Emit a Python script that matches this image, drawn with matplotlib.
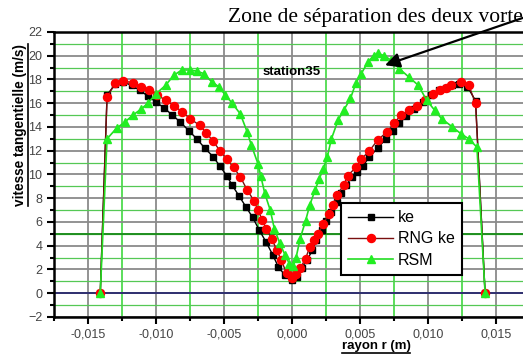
import matplotlib
matplotlib.use('Agg')
from matplotlib import pyplot as plt
from matplotlib import ticker
from matplotlib.lines import Line2D

# ke (black squares)
r_ke = [-0.0141, -0.0136, -0.0130, -0.0124, -0.0118, -0.0112, -0.0106, -0.0100,
        -0.0094, -0.0088, -0.0082, -0.0076, -0.0070, -0.0064, -0.0058, -0.0053,
        -0.0048, -0.0044, -0.0039, -0.0034, -0.0029, -0.0024, -0.0019, -0.0014,
        -0.0010, -0.0005, 0.0000, 0.0004, 0.0007, 0.0011, 0.0015, 0.0018, 0.0022,
        0.0025, 0.0029, 0.0033, 0.0036, 0.0040, 0.0044, 0.0048, 0.0052, 0.0057,
        0.0063, 0.0069, 0.0074, 0.0079, 0.0084, 0.0090, 0.0096, 0.0102, 0.0108,
        0.0113, 0.0118, 0.0123, 0.0129, 0.0135, 0.0142]
v_ke = [0.0, 16.7, 17.6, 17.8, 17.5, 17.1, 16.6, 16.1,
        15.6, 15.0, 14.4, 13.7, 13.0, 12.2, 11.5, 10.7,
        9.9, 9.1, 8.2, 7.3, 6.4, 5.3, 4.3, 3.2,
        2.2, 1.5, 1.1, 1.4, 2.1, 2.8, 3.6, 4.5, 5.3,
        6.1, 6.85, 7.7, 8.4, 9.1, 9.8, 10.2, 10.7, 11.5,
        12.2, 13.0, 13.7, 14.3, 14.9, 15.5, 16.1, 16.7, 17.1,
        17.3, 17.5, 17.6, 17.4, 16.2, 0.0]

# RNG ke (red circles)
r_rng = [-0.0141, -0.0136, -0.0130, -0.0124, -0.0117, -0.0111, -0.0105, -0.0099,
         -0.0093, -0.0087, -0.0081, -0.0075, -0.0068, -0.0063, -0.0058, -0.0053,
         -0.0048, -0.0043, -0.0038, -0.0033, -0.0028, -0.0025, -0.0022, -0.0019,
         -0.0015, -0.0011, -0.0008, -0.0004, 0.0000, 0.0003, 0.0006, 0.0010, 0.0013,
         0.0016, 0.0019, 0.0023, 0.0027, 0.0030, 0.0033, 0.0038, 0.0041, 0.0047,
         0.0051, 0.0057, 0.0063, 0.0070, 0.0075, 0.0080, 0.0086, 0.0092, 0.0098,
         0.0104, 0.0109, 0.0113, 0.0117, 0.0124, 0.0130, 0.0135, 0.0142]
v_rng = [0.0, 16.5, 17.7, 17.9, 17.7, 17.4, 17.1, 16.7,
         16.25, 15.8, 15.3, 14.7, 14.15, 13.5, 12.8, 12.0,
         11.3, 10.6, 9.8, 8.7, 7.8, 7.0, 6.2, 5.45,
         4.6, 3.6, 2.8, 1.7, 1.3, 1.66, 2.1, 2.9, 3.9,
         4.5, 5.0, 5.8, 6.7, 7.4, 8.25, 9.1, 9.9, 10.6,
         11.3, 12.0, 12.9, 13.6, 14.3, 15.0, 15.4, 15.8, 16.25,
         16.8, 17.1, 17.3, 17.5, 17.8, 17.5, 16.0, 0.0]

# RSM (green triangles)
r_rsm = [-0.0141, -0.0136, -0.0129, -0.0123, -0.0117, -0.0111, -0.0106, -0.0100,
         -0.0093, -0.0087, -0.0081, -0.0075, -0.0070, -0.0065, -0.0059, -0.0054,
         -0.0049, -0.0044, -0.0038, -0.0033, -0.0030, -0.0025, -0.0023, -0.0020,
         -0.0016, -0.0013, -0.0009, -0.0005, -0.0002, 0.0001, 0.0003, 0.0006,
         0.0010, 0.0013, 0.0017, 0.0020, 0.0023, 0.0026, 0.0029, 0.0034, 0.0038,
         0.0043, 0.0047, 0.0051, 0.0056, 0.0060, 0.0063, 0.0068, 0.0073, 0.0079,
         0.0086, 0.0093, 0.0099, 0.0105, 0.0110, 0.0118, 0.0124, 0.0130, 0.0136,
         0.0142]
v_rsm = [0.0, 13.0, 13.9, 14.4, 15.0, 15.5, 16.0, 16.8,
         17.5, 18.35, 18.8, 18.8, 18.7, 18.5, 17.8, 17.4,
         16.7, 16.0, 15.1, 13.6, 12.5, 10.9, 9.9, 8.4,
         7.0, 5.45, 4.2, 3.2, 2.5, 2.3, 3.0, 4.6,
         6.1, 7.4, 8.7, 9.6, 10.5, 11.5, 13.0, 14.6, 15.4,
         16.4, 17.7, 18.5, 19.5, 20.0, 20.2, 20.0, 19.6, 18.9,
         18.2, 17.5, 16.25, 15.4, 14.7, 14.0, 13.45, 13.0, 12.3,
         0.0]

plt.rcParams['font.family'] = ['Liberation Sans', 'DejaVu Sans']

fig = plt.figure(figsize=(5.23, 3.56), dpi=100)
ax = fig.add_axes([0.1033, 0.1096, 0.910, 0.8006])

# grid: gray majors, green minors
ax.set_xlim(-0.0175, 0.0175)
ax.set_ylim(-2, 22)
ax.xaxis.set_major_locator(ticker.MultipleLocator(0.005))
ax.xaxis.set_minor_locator(ticker.MultipleLocator(0.0025))
ax.yaxis.set_major_locator(ticker.MultipleLocator(2))
ax.yaxis.set_minor_locator(ticker.MultipleLocator(1))
ax.grid(True, which='major', color='#8a8a8a', lw=1.3, zorder=0)
ax.grid(True, which='minor', axis='y', color='#55c855', lw=0.9, zorder=0)
ax.grid(True, which='minor', axis='x', color='#2fd52f', lw=1.1, zorder=0)
ax.axhline(0, color='#303070', lw=1.4, zorder=1)
ax.axhline(5, color='#1f8f1f', lw=1.4, zorder=1)
ax.set_axisbelow(True)

def comma(x, pos):
    '''Decimal comma labels, e.g. -0,015.'''
    return '{0:.3f}'.format(x).replace('.', ',')

ax.xaxis.set_major_formatter(ticker.FuncFormatter(comma))
ax.tick_params(which='both', direction='out', colors='black', labelcolor='#444444',
               labelsize=9, width=1.5)
ax.tick_params(which='major', length=5)
ax.tick_params(which='minor', length=3)
for side in ['left', 'bottom', 'top']:
    ax.spines[side].set_linewidth(1.8)
ax.spines['right'].set_visible(False)

ax.plot(r_ke, v_ke, '-', color='black', lw=1, marker='s', ms=4.8,
        mfc='black', mec='black', label='ke', zorder=3)
ax.plot(r_rng, v_rng, '-', color='#7a1010', lw=1, marker='o', ms=5.8,
        mfc='red', mec='red', label='RNG ke', zorder=4)
ax.plot(r_rsm, v_rsm, '-', color='#22dd22', lw=1.2, marker='^', ms=6.2,
        mfc='#22ee22', mec='#22ee22', label='RSM', zorder=5)

leg = ax.legend(loc='upper left', bbox_to_anchor=(0.652, 0.430),
                bbox_transform=fig.transFigure, fontsize=11.5, frameon=True,
                fancybox=False, edgecolor='black', framealpha=1,
                handlelength=2.8, handletextpad=0.3, labelspacing=0.4,
                borderpad=0.45, borderaxespad=0)
leg.get_frame().set_linewidth(1.5)

ax.text(-0.0022, 18.6, 'station35', fontsize=9.5, fontweight='bold',
        ha='left', va='center', zorder=6)

ylab = fig.text(0.038, 0.650, 'vitesse tangentielle (m/s)', rotation=90,
                ha='center', va='center', fontsize=9.8, fontweight='bold')
xlab = fig.text(0.719, 0.027, 'rayon r (m)', ha='center', va='center',
                fontsize=9.5, fontweight='bold')

fig.text(0.436, 0.952, 'Zone de séparation des deux vortex',
         family=['Liberation Serif', 'DejaVu Serif'], fontsize=15.5,
         ha='left', va='center')
ax.annotate('', xy=(0.00684, 19.2), xytext=(1.03, 0.965),
            textcoords='figure fraction',
            arrowprops=dict(arrowstyle='-|>', color='black', lw=1.6,
                            mutation_scale=22, shrinkA=0, shrinkB=0),
            annotation_clip=False, zorder=7)

# underline the axis labels
fig.canvas.draw()
inv = fig.transFigure.inverted()
bb = ylab.get_window_extent().transformed(inv)
fig.add_artist(Line2D([bb.x1 + 0.002, bb.x1 + 0.002], [bb.y0, bb.y1],
                      color='black', lw=1.2, transform=fig.transFigure))
bb = xlab.get_window_extent().transformed(inv)
fig.add_artist(Line2D([bb.x0, bb.x1], [bb.y0 - 0.002, bb.y0 - 0.002],
                      color='black', lw=1.2, transform=fig.transFigure))

fig.savefig('out.png', dpi=100)
